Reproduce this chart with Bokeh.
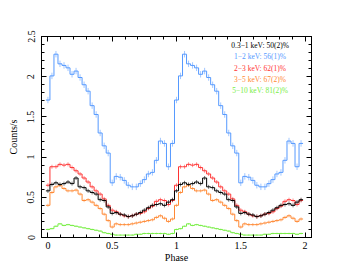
import numpy as np
from bokeh.plotting import figure
from bokeh.models import Range1d, LinearAxis, Label, FixedTicker, NumeralTickFormatter
from bokeh.embed import file_html
from bokeh.resources import INLINE

# ---- data (folded light curve, 32 phase bins, shown twice) ----
nbins = 32
phase_one = [i / nbins for i in range(nbins)]

black = [0.58, 0.66, 0.68, 0.66, 0.67, 0.69, 0.67, 0.74, 0.63, 0.62, 0.58, 0.56, 0.54, 0.47, 0.46, 0.38,
         0.30, 0.31, 0.29, 0.28, 0.26, 0.27, 0.29, 0.31, 0.34, 0.37, 0.40, 0.41, 0.42, 0.40, 0.44, 0.47]
blue = [1.71, 2.01, 2.28, 2.16, 2.14, 2.11, 2.03, 2.07, 1.99, 1.90, 1.82, 1.64, 1.53, 1.30, 1.14, 1.05,
        0.68, 0.76, 0.75, 0.71, 0.65, 0.63, 0.63, 0.67, 0.72, 0.79, 0.81, 0.96, 1.20, 1.17, 0.88, 1.17]
red = [0.65, 0.88, 0.88, 0.91, 0.90, 0.91, 0.87, 0.83, 0.79, 0.74, 0.69, 0.63, 0.58, 0.54, 0.48, 0.40,
       0.34, 0.32, 0.29, 0.27, 0.26, 0.27, 0.29, 0.30, 0.32, 0.36, 0.39, 0.45, 0.47, 0.46, 0.41, 0.46]
orange = [0.40, 0.56, 0.63, 0.65, 0.61, 0.58, 0.58, 0.59, 0.54, 0.46, 0.47, 0.44, 0.40, 0.36, 0.29, 0.21,
          0.13, 0.17, 0.16, 0.16, 0.16, 0.17, 0.18, 0.19, 0.20, 0.21, 0.22, 0.25, 0.27, 0.24, 0.20, 0.23]
green = [0.10, 0.11, 0.14, 0.17, 0.15, 0.16, 0.15, 0.14, 0.13, 0.12, 0.11, 0.10, 0.09, 0.08, 0.06, 0.05,
         0.04, 0.03, 0.03, 0.03, 0.03, 0.03, 0.04, 0.04, 0.05, 0.05, 0.05, 0.05, 0.05, 0.05, 0.04, 0.05]

errors = {"black": 0.025, "blue": 0.04, "red": 0.025, "orange": 0.02, "green": 0.01}

labels = ["0.3−1 keV: 50(2)%", "1−2 keV: 56(1)%", "2−3 keV: 62(1)%", "3−5 keV: 67(2)%", "5−10 keV: 81(2)%"]
title_text = "XMM−Newton: 12/10/2011"

colors = {"black": "#000000", "blue": "#5599ff", "red": "#ff3333", "orange": "#ff8833", "green": "#77ee44"}

SERIF = "Liberation Serif"

p = figure(width=353, height=273, output_backend="svg", toolbar_location=None,
           x_range=Range1d(-0.05, 2.05), y_range=Range1d(0, 2.5),
           min_border_left=41, min_border_right=42, min_border_top=36, min_border_bottom=36)
p.grid.visible = False
p.outline_line_color = "black"
p.background_fill_color = "white"
p.border_fill_color = "white"

xt = FixedTicker(ticks=[0, 0.5, 1, 1.5, 2], minor_ticks=[round(i * 0.1, 2) for i in range(0, 21)])
yt = FixedTicker(ticks=[0, 0.5, 1, 1.5, 2, 2.5], minor_ticks=[round(i * 0.1, 2) for i in range(0, 26)])

p.add_layout(LinearAxis(), "above")
p.add_layout(LinearAxis(), "right")

for ax in p.xaxis:
    ax.ticker = xt
for ax in p.yaxis:
    ax.ticker = yt
for ax in p.axis:
    ax.formatter = NumeralTickFormatter(format="0.[0]")
    ax.major_tick_in = 5
    ax.major_tick_out = 0
    ax.minor_tick_in = 3
    ax.minor_tick_out = 0
    ax.axis_line_color = "black"
    ax.major_tick_line_color = "black"
    ax.minor_tick_line_color = "black"
    ax.major_label_text_font = SERIF
    ax.major_label_text_font_size = "10px"
    ax.major_label_text_color = "black"
    ax.axis_label_text_font = SERIF
    ax.axis_label_text_font_size = "10px"
    ax.axis_label_text_font_style = "normal"
    ax.axis_label_text_color = "black"

p.above[0].major_label_text_color = None
p.above[0].major_label_standoff = 0
p.right[0].major_label_text_color = None
p.right[0].major_label_standoff = 0

p.below[0].axis_label = "Phase"
p.below[0].major_label_standoff = 4
p.below[0].axis_label_standoff = 0
p.left[0].axis_label = "Counts/s"
p.left[0].major_label_orientation = "vertical"
p.left[0].major_label_standoff = 7
p.left[0].axis_label_standoff = 6

w = 1.0 / nbins
phase = phase_one + [ph + 1 for ph in phase_one]


def draw(vals, err, col):
    v = vals + vals
    xs, ys = [], []
    for ph, y in zip(phase, v):
        xs += [ph - w / 2, ph + w / 2]
        ys += [y, y]
    p.segment(x0=phase, y0=[y - err for y in v], x1=phase, y1=[y + err for y in v],
              line_color=col, line_alpha=0.55, line_width=1)
    p.line(xs, ys, line_color=col, line_width=1)


for key, vals in [("green", green), ("orange", orange), ("red", red), ("blue", blue), ("black", black)]:
    draw(vals, errors[key], colors[key])

p.add_layout(Label(x=-0.05, y=2.5, y_offset=4, text=title_text, text_font=SERIF,
                   text_font_size="11px", text_color="black", text_baseline="alphabetic"))

ly = [2.388, 2.25, 2.108, 1.97, 1.83]
for txt, key, yy in zip(labels, ["black", "blue", "red", "orange", "green"], ly):
    p.add_layout(Label(x=1.65, y=yy, text=txt, text_font=SERIF, text_font_size="7.5px",
                       text_color=colors[key], text_align="center", text_baseline="middle"))

open("out.html", "w").write(file_html(p, INLINE))
